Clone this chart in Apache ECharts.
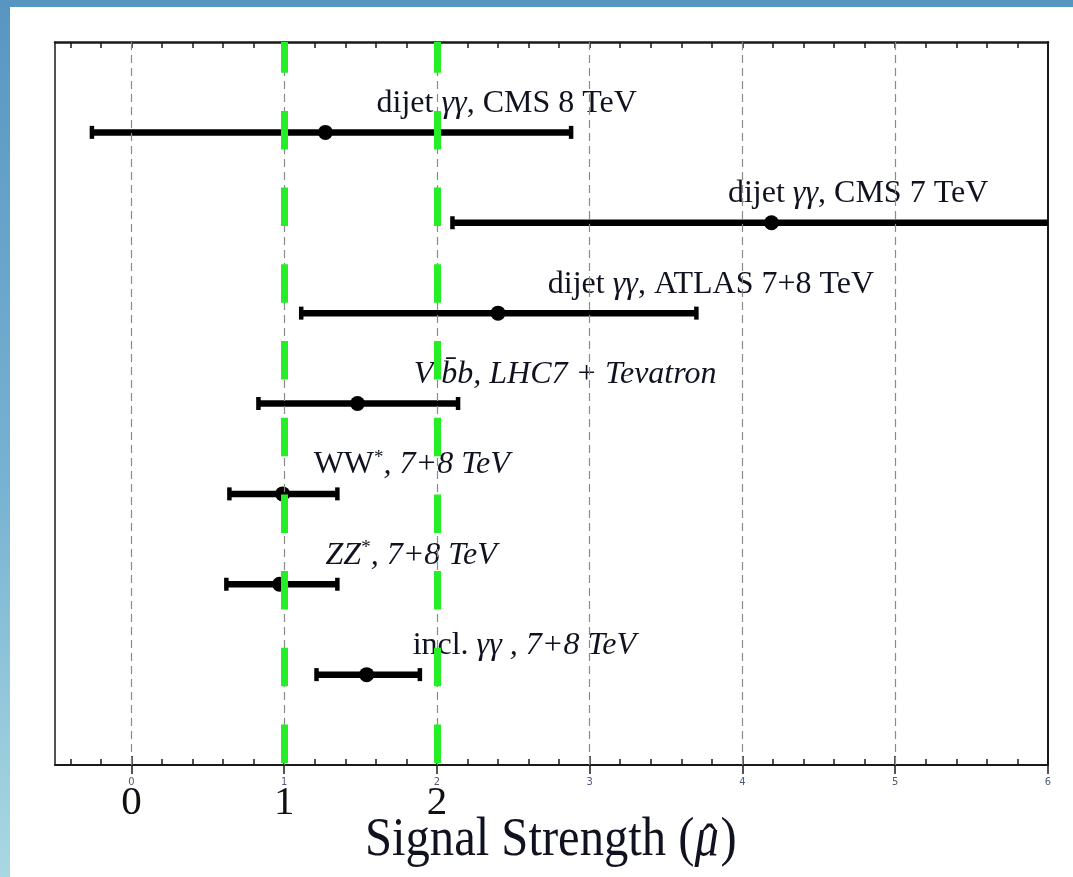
<!DOCTYPE html>
<html>
<head>
<meta charset="utf-8">
<script src="https://cdn.jsdelivr.net/npm/echarts@6/dist/echarts.min.js"></script>
<style>
  html, body { margin: 0; padding: 0; width: 1073px; height: 877px; overflow: hidden; }
  body { background: linear-gradient(180deg, #5896c2 0%, #78b2d2 55%, #a9d8e2 100%); position: relative; }
  #sheet { position: absolute; left: 10px; top: 7px; right: 0; bottom: 0; background: #ffffff; }
  #chart { position: absolute; left: 0; top: 0; width: 1073px; height: 877px; }
</style>
</head>
<body>
<div id="sheet"></div>
<div id="chart"></div>
<script>
// Channel names (rich-text markup: {i|..} italic, {sup|..} superscript)
const channels = [
  'dijet {i|γγ}, CMS 8 TeV',
  'dijet {i|γγ}, CMS 7 TeV',
  'dijet {i|γγ}, ATLAS 7+8 TeV',
  '{i|V b̄b, LHC7 + Tevatron}',
  'WW{sup|*}{i|, 7+8 TeV}',
  '{i|ZZ}{sup|*}{i|, 7+8 TeV}',
  'incl. {i|γγ , 7+8 TeV}'
];
// Best-fit signal strength and its 1-sigma interval
const central = [1.27, 4.19, 2.40, 1.48, 0.99, 0.97, 1.54];
const lower   = [-0.26, 2.10, 1.11, 0.83, 0.64, 0.62, 1.21];
const upper   = [2.88, 6.40, 3.70, 2.14, 1.35, 1.35, 1.89];
// Row of each channel on the vertical scale (top to bottom)
const rows = [7, 6, 5, 4, 3, 2, 1];
// Where each channel caption begins, in units of mu
const captionAt = [1.605, 3.905, 2.726, 1.848, 1.193, 1.271, 1.841];
// Axis annotation
const tickLabels = [0, 1, 2, 3, 4, 5, 6];
const bigTickLabels = [0, 1, 2];
const gridLines = [0, 1, 2, 3, 4, 5];
const referenceLines = [1, 2];
const titleLead = 'Signal Strength (';
const titleSymbol = 'μ';
const titleTail = ')';

const X_MIN = -0.5, X_MAX = 6;
const minorTicks = [];
for (let k = -2; k <= 30; k++) minorTicks.push(+(k * 0.2).toFixed(1));

const serif = '"Liberation Serif", "DejaVu Serif", serif';
const ink = '#10131f';
const capSize = 32;
const richStyles = {
  i: { fontFamily: serif, fontStyle: 'italic', fontSize: capSize, color: ink, opacity: 1 },
  sup: { fontFamily: serif, fontSize: 19, color: ink, verticalAlign: 'top', padding: [0, 0, 14, 0] }
};

const barData = central.map((c, k) => [c, rows[k], lower[k], upper[k]]);
const captionData = captionAt.map((x, k) => ({ value: [x, rows[k]], name: channels[k] }));

// axis title: measure pieces so the hat sits over the italic mu
const titleSize = 54, titleScaleX = 0.9, titleLeft = 365, titleTop = 814;
const mctx = document.createElement('canvas').getContext('2d');
mctx.font = titleSize + 'px ' + serif;
const leadW = mctx.measureText(titleLead).width;
mctx.font = 'italic ' + titleSize + 'px ' + serif;
const muW = mctx.measureText(titleSymbol).width;

const chart = echarts.init(document.getElementById('chart'), null, { renderer: 'canvas' });

const baseX = { type: 'value', min: X_MIN, max: X_MAX, splitLine: { show: false } };

chart.setOption({
  animation: false,
  backgroundColor: 'transparent',
  grid: { left: 55, right: 25, top: 42, bottom: 112, containLabel: false },
  xAxis: [
    Object.assign({}, baseX, {
      position: 'bottom',
      axisLine: { show: true, onZero: false, lineStyle: { color: '#1a1a1a', width: 2 } },
      axisTick: { show: true, inside: true, length: 6, customValues: minorTicks, lineStyle: { color: '#1a1a1a', width: 1.5 } },
      axisLabel: { show: true, customValues: tickLabels, margin: 12, fontSize: 11,
        fontFamily: '"DejaVu Sans Condensed", "Liberation Sans", sans-serif', color: '#4d5b7c' }
    }),
    Object.assign({}, baseX, {
      position: 'bottom',
      axisLine: { show: false },
      axisTick: { show: true, inside: true, length: 9, customValues: tickLabels, lineStyle: { color: '#1a1a1a', width: 1.5 } },
      axisLabel: { show: true, customValues: bigTickLabels, margin: 18, fontSize: 41,
        fontFamily: serif, color: '#111111' }
    }),
    Object.assign({}, baseX, {
      position: 'top',
      axisLine: { show: true, onZero: false, lineStyle: { color: '#1a1a1a', width: 2.5 } },
      axisTick: { show: true, inside: true, length: 6, customValues: minorTicks, lineStyle: { color: '#1a1a1a', width: 1.5 } },
      axisLabel: { show: false }
    }),
    Object.assign({}, baseX, {
      position: 'top',
      axisLine: { show: false },
      axisTick: { show: true, inside: true, length: 9, customValues: tickLabels, lineStyle: { color: '#1a1a1a', width: 1.5 } },
      axisLabel: { show: false }
    })
  ],
  yAxis: [
    { type: 'value', min: 0, max: 8, position: 'left',
      axisLine: { show: true, onZero: false, lineStyle: { color: '#1a1a1a', width: 1.5 } },
      axisTick: { show: false }, axisLabel: { show: false }, splitLine: { show: false } },
    { type: 'value', min: 0, max: 8, position: 'right',
      axisLine: { show: true, onZero: false, lineStyle: { color: '#1a1a1a', width: 2 } },
      axisTick: { show: false }, axisLabel: { show: false }, splitLine: { show: false } }
  ],
  series: [
    {
      // grey integer grid
      type: 'line', data: [], xAxisIndex: 0, yAxisIndex: 0, z: 1,
      markLine: {
        silent: true, symbol: ['none', 'none'], label: { show: false },
        lineStyle: { color: '#8a8a8a', width: 1.2, type: [8, 5] },
        data: gridLines.map(v => ({ xAxis: v }))
      }
    },
    {
      // error bars and central values
      type: 'custom', xAxisIndex: 0, yAxisIndex: 0, z: 3,
      data: barData,
      renderItem: function (params, api) {
        const cs = params.coordSys;
        const xRight = cs.x + cs.width;
        const xLeft = cs.x;
        const pLo = api.coord([api.value(2), api.value(1)]);
        const pHi = api.coord([api.value(3), api.value(1)]);
        const pC = api.coord([api.value(0), api.value(1)]);
        const x1 = Math.max(pLo[0], xLeft), x2 = Math.min(pHi[0], xRight);
        const y = pC[1];
        const children = [
          { type: 'line', shape: { x1: x1, y1: y, x2: x2, y2: y }, style: { stroke: '#000', lineWidth: 6.5 } }
        ];
        if (pLo[0] >= xLeft) children.push({ type: 'rect', shape: { x: pLo[0] - 2, y: y - 6.5, width: 4.5, height: 13 }, style: { fill: '#000' } });
        if (pHi[0] <= xRight) children.push({ type: 'rect', shape: { x: pHi[0] - 2.5, y: y - 6.5, width: 4.5, height: 13 }, style: { fill: '#000' } });
        children.push({ type: 'circle', shape: { cx: pC[0], cy: y, r: 7.5 }, style: { fill: '#000' } });
        return { type: 'group', children: children };
      }
    },
    {
      // SM reference lines at mu = 1 and mu = 2
      type: 'line', data: [], xAxisIndex: 0, yAxisIndex: 0, z: 5,
      markLine: {
        silent: true, symbol: ['none', 'none'], label: { show: false }, z: 5,
        lineStyle: { color: '#26ee26', width: 7, type: [38.5, 38.2], dashOffset: 74.7, opacity: 1 },
        data: referenceLines.map(v => ({ xAxis: v }))
      }
    },
    {
      // channel captions
      type: 'scatter', xAxisIndex: 0, yAxisIndex: 0, z: 4,
      symbolSize: 0, silent: true,
      itemStyle: { color: ink, opacity: 1 },
      data: captionData,
      emphasis: { disabled: true },
      label: {
        show: true, position: 'right', distance: 0, offset: [0, -29],
        formatter: p => p.name, opacity: 1,
        fontFamily: serif, fontSize: capSize, color: ink, textBorderWidth: 0,
        rich: richStyles
      }
    }
  ],
  graphic: [
    {
      type: 'group', left: titleLeft, top: titleTop, scaleX: titleScaleX,
      children: [
        { type: 'text', x: 0, y: 0,
          style: { text: titleLead, fontFamily: serif, fontSize: titleSize, fill: ink, textVerticalAlign: 'top' } },
        { type: 'text', x: leadW, y: 0,
          style: { text: titleSymbol, fontFamily: serif, fontStyle: 'italic', fontSize: titleSize, fill: ink } },
        { type: 'text', x: leadW + muW * 0.62, y: titleSize * 0.12, style: {
            text: 'ˆ', fontFamily: serif, fontSize: titleSize * 0.9, fill: ink, align: 'center' } },
        { type: 'text', x: leadW + muW + 2, y: 0,
          style: { text: titleTail, fontFamily: serif, fontSize: titleSize, fill: ink } }
      ]
    }
  ]
});
</script>
</body>
</html>
